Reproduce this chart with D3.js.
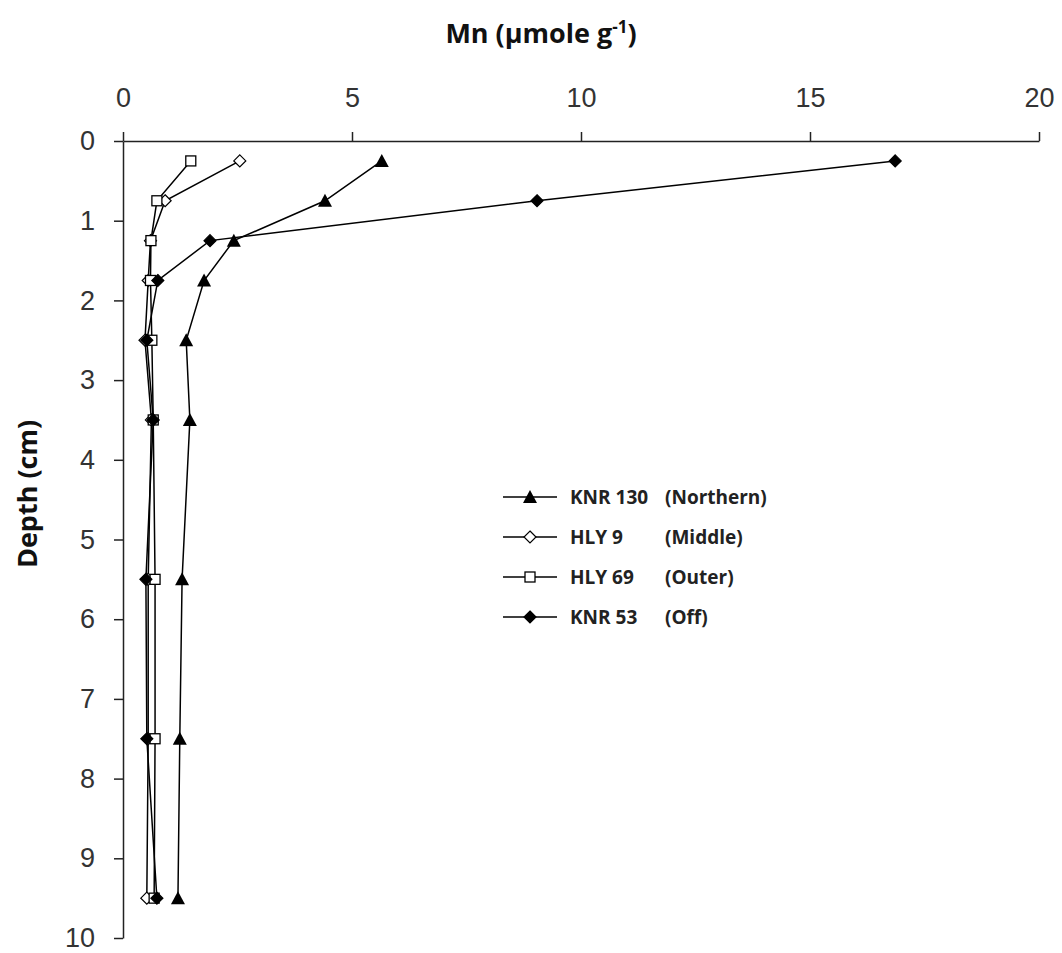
<!DOCTYPE html>
<html>
<head>
<meta charset="utf-8">
<script src="https://cdn.jsdelivr.net/npm/d3@7"></script>
<style>
  body { margin: 0; background: #fff; }
  svg { display: block; }
</style>
</head>
<body>
<div id="chart"></div>
<script>
// depth of each slice (cm)
const depths = [0.25, 0.75, 1.25, 1.75, 2.5, 3.5, 5.5, 7.5, 9.5];

// Mn values (µmole g-1) per core
const knr130 = [5.65, 4.41, 2.42, 1.77, 1.38, 1.46, 1.29, 1.24, 1.2];
const hly9 = [2.55, 0.92, 0.6, 0.55, 0.48, 0.62, 0.55, 0.55, 0.52];
const hly69 = [1.48, 0.74, 0.61, 0.6, 0.63, 0.66, 0.7, 0.7, 0.68];
const knr53 = [16.86, 9.04, 1.9, 0.76, 0.52, 0.66, 0.5, 0.52, 0.74];

const seriesNames = ["KNR 130", "HLY 9", "HLY 69", "KNR 53"];
const seriesRegions = ["(Northern)", "(Middle)", "(Outer)", "(Off)"];
const seriesValues = [knr130, hly9, hly69, knr53];
const seriesMarkers = ["triangle", "openDiamond", "openSquare", "diamond"];

const xTicks = [0, 5, 10, 15, 20];
const yTicks = [0, 1, 2, 3, 4, 5, 6, 7, 8, 9, 10];

const width = 1062, height = 953;
const svg = d3.select("#chart").append("svg")
  .attr("width", width).attr("height", height);

const x = d3.scaleLinear().domain([0, 20]).range([123, 1039]);
const y = d3.scaleLinear().domain([0, 10]).range([141, 938]);

// axes
const xAxis = svg.append("g")
  .attr("transform", "translate(0,141)")
  .call(d3.axisTop(x).tickValues(xTicks).tickSize(9).tickPadding(25).tickSizeOuter(0));
const yAxis = svg.append("g")
  .attr("transform", "translate(123,0)")
  .call(d3.axisLeft(y).tickValues(yTicks).tickSize(9).tickPadding(19).tickSizeOuter(0));

[xAxis, yAxis].forEach(g => {
  g.select(".domain").attr("stroke", "#222").attr("stroke-width", 1.5);
  g.selectAll(".tick line").attr("stroke", "#222").attr("stroke-width", 1.5);
  g.selectAll(".tick text")
    .attr("fill", "#333")
    .style("font-family", "Liberation Sans, Arial, sans-serif")
    .style("font-size", "27px");
});

// lines and markers
const line = d3.line()
  .x(d => x(d[0]))
  .y(d => y(d[1]));

function drawMarker(g, type, cx, cy) {
  if (type === "triangle") {
    g.append("path")
      .attr("d", `M${cx},${cy - 7}L${cx + 7},${cy + 6}L${cx - 7},${cy + 6}Z`)
      .attr("fill", "#000");
  } else if (type === "diamond" || type === "openDiamond") {
    g.append("path")
      .attr("d", `M${cx},${cy - 6}L${cx + 6},${cy}L${cx},${cy + 6}L${cx - 6},${cy}Z`)
      .attr("fill", type === "diamond" ? "#000" : "#fff")
      .attr("stroke", "#000").attr("stroke-width", 1.2);
  } else if (type === "openSquare") {
    g.append("rect")
      .attr("x", cx - 5).attr("y", cy - 5)
      .attr("width", 10).attr("height", 10)
      .attr("fill", "#fff")
      .attr("stroke", "#000").attr("stroke-width", 1.3);
  }
}

seriesValues.forEach((vals, i) => {
  const pts = vals.map((v, j) => [v, depths[j]]);
  svg.append("path")
    .datum(pts)
    .attr("d", line)
    .attr("fill", "none")
    .attr("stroke", "#000")
    .attr("stroke-width", 1.5);
});

seriesValues.forEach((vals, i) => {
  const g = svg.append("g");
  vals.forEach((v, j) => drawMarker(g, seriesMarkers[i], x(v), y(depths[j])));
});

// legend
const legend = svg.append("g")
  .style("font-family", "Open Sans, Lato, sans-serif")
  .style("font-weight", "bold")
  .style("font-size", "19px");

seriesNames.forEach((name, i) => {
  const ly = 497 + i * 40;
  const g = legend.append("g");
  g.append("line")
    .attr("x1", 503).attr("x2", 557)
    .attr("y1", ly).attr("y2", ly)
    .attr("stroke", "#000").attr("stroke-width", 1.6);
  drawMarker(g, seriesMarkers[i], 530, ly);
  g.append("text").attr("x", 570).attr("y", ly + 7).text(name).attr("fill", "#222");
  g.append("text").attr("x", 665).attr("y", ly + 7).text(seriesRegions[i]).attr("fill", "#222");
});

// axis titles
const xTitle = svg.append("text")
  .attr("x", 541).attr("y", 43)
  .attr("text-anchor", "middle")
  .style("font-family", "Open Sans, Lato, sans-serif")
  .style("font-weight", "bold")
  .style("font-size", "27px")
  .attr("fill", "#111");
xTitle.append("tspan").text("Mn (µmole g");
xTitle.append("tspan").attr("dy", -10).style("font-size", "17px").text("-1");
xTitle.append("tspan").attr("dy", 10).text(")");

svg.append("text")
  .attr("transform", "translate(37,494) rotate(-90)")
  .attr("text-anchor", "middle")
  .style("font-family", "Open Sans, Lato, sans-serif")
  .style("font-weight", "bold")
  .style("font-size", "27px")
  .attr("fill", "#111")
  .text("Depth (cm)");
</script>
</body>
</html>
